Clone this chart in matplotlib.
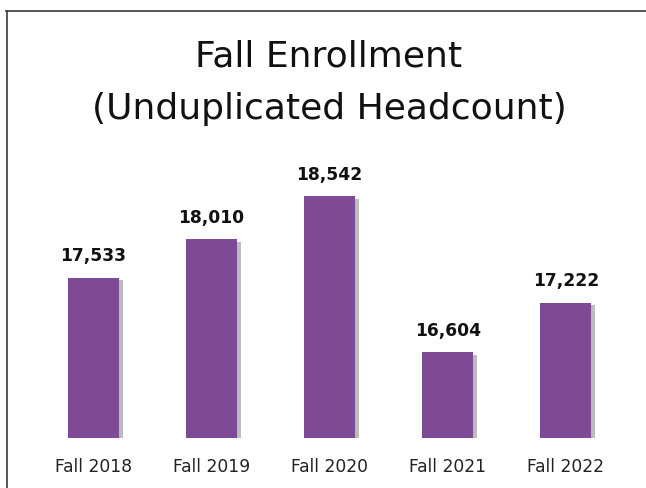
import matplotlib
matplotlib.use("Agg")
import matplotlib.pyplot as plt
from matplotlib.lines import Line2D
import matplotlib.patheffects as pe

categories = ["Fall 2018", "Fall 2019", "Fall 2020", "Fall 2021", "Fall 2022"]
values = [17533, 18010, 18542, 16604, 17222]
title_lines = ["Fall Enrollment", "(Unduplicated Headcount)"]

W, H = 646, 489
fig = plt.figure(figsize=(W / 100, H / 100), dpi=100)
fig.patch.set_facecolor("white")

# axes placement (pixels)
left_px, right_px = 34, 625
bottom_px, top_px = 439, 140
ax = fig.add_axes([left_px / W, 1 - bottom_px / H, (right_px - left_px) / W, (bottom_px - top_px) / H])

ymin = 15540
px_per_unit = 0.0805
ymax = ymin + (bottom_px - top_px) / px_per_unit

bar_color = "#7E4A96"
x = list(range(len(categories)))
bars = ax.bar(x, values, width=0.43, color=bar_color, zorder=3,
              path_effects=[pe.SimplePatchShadow(offset=(3, -2), shadow_rgbFace="#7a7a7a", alpha=0.5), pe.Normal()])
ax.set_xlim(-0.5, len(categories) - 0.5)
ax.set_ylim(ymin, ymax)

for xi, v in zip(x, values):
    ax.annotate(f"{v:,}", (xi, v), xytext=(0, 12.5), textcoords="offset points",
                ha="center", va="baseline", fontsize=12.3, fontweight="bold",
                family="DejaVu Sans", color="#111111")

ax.set_xticks(x)
ax.set_xticklabels(categories, fontsize=12.3, family="DejaVu Sans", color="#222222")
ax.tick_params(axis="x", length=0, pad=14)
ax.set_yticks([])
for s in ax.spines.values():
    s.set_visible(False)

fig.text(329 / W, 1 - 67 / H, title_lines[0], ha="center", va="baseline", fontsize=26, family="DejaVu Sans", color="#111111")
fig.text(329 / W, 1 - 119 / H, title_lines[1], ha="center", va="baseline", fontsize=26, family="DejaVu Sans", color="#111111")

# outer border (partially cropped in reference)
fig.add_artist(Line2D([6.5 / W, 6.5 / W], [0, 1 - 12 / H], transform=fig.transFigure, color="#3a3a3a", lw=1.2))
fig.add_artist(Line2D([6 / W, 1], [1 - 12 / H, 1 - 12 / H], transform=fig.transFigure, color="#3a3a3a", lw=1.2))

fig.savefig("out.png", dpi=100)
